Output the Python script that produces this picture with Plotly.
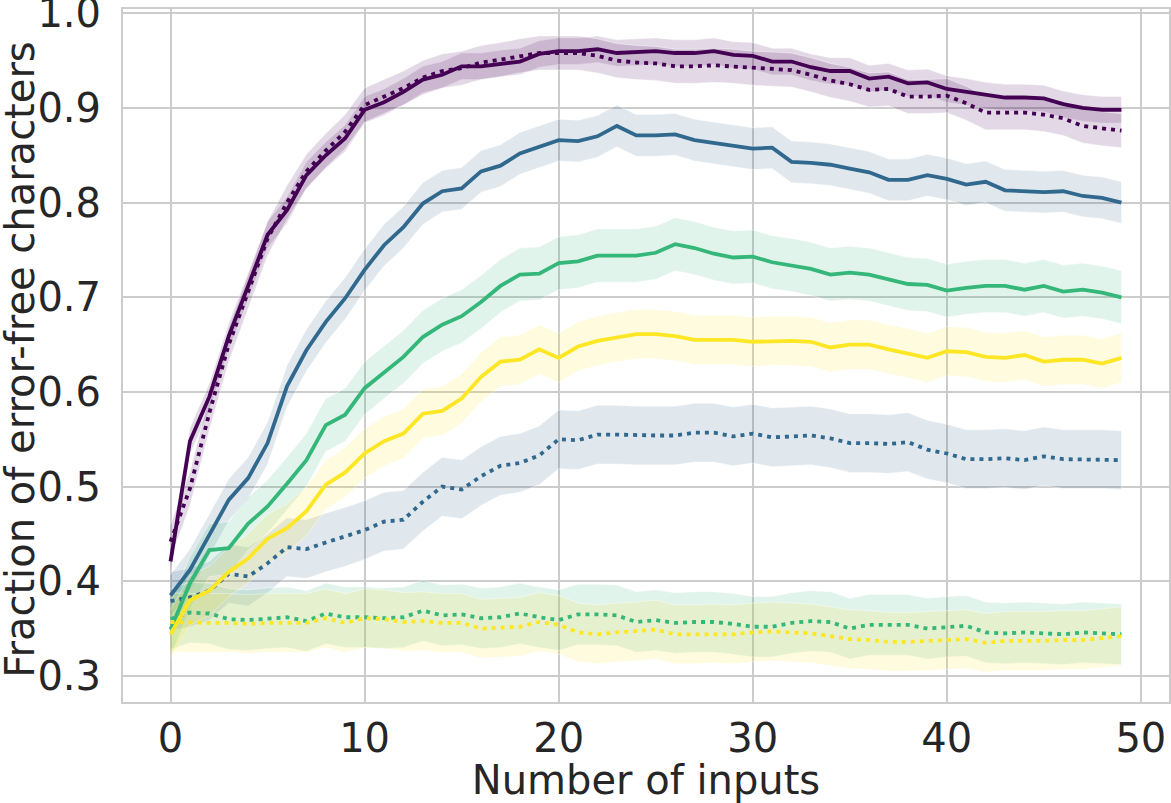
import plotly.graph_objects as go

x = list(range(50))

purple_solid = [0.421, 0.548, 0.595, 0.659, 0.712, 0.766, 0.792, 0.829, 0.850, 0.868,
                0.898, 0.906, 0.917, 0.930, 0.935, 0.944, 0.944, 0.947, 0.949, 0.957,
                0.960, 0.960, 0.962, 0.958, 0.959, 0.960, 0.958, 0.958, 0.960, 0.956,
                0.955, 0.949, 0.949, 0.943, 0.939, 0.939, 0.931, 0.933, 0.926, 0.927,
                0.920, 0.917, 0.913, 0.911, 0.911, 0.910, 0.904, 0.900, 0.898, 0.898]
purple_dotted = [0.442, 0.498, 0.578, 0.650, 0.706, 0.762, 0.800, 0.833, 0.855, 0.875,
                 0.903, 0.912, 0.921, 0.932, 0.939, 0.942, 0.948, 0.951, 0.955, 0.958,
                 0.958, 0.958, 0.955, 0.950, 0.948, 0.947, 0.944, 0.944, 0.945, 0.944,
                 0.942, 0.941, 0.940, 0.935, 0.929, 0.925, 0.919, 0.920, 0.912, 0.912,
                 0.913, 0.905, 0.895, 0.895, 0.895, 0.893, 0.889, 0.881, 0.878, 0.876]
blue_solid = [0.385, 0.412, 0.449, 0.486, 0.509, 0.546, 0.606, 0.644, 0.674, 0.699,
              0.729, 0.755, 0.774, 0.799, 0.812, 0.815, 0.833, 0.839, 0.852, 0.859,
              0.866, 0.865, 0.870, 0.881, 0.871, 0.871, 0.872, 0.866, 0.863, 0.860,
              0.857, 0.858, 0.843, 0.842, 0.840, 0.836, 0.832, 0.824, 0.824, 0.829,
              0.825, 0.819, 0.822, 0.813, 0.812, 0.811, 0.812, 0.807, 0.805, 0.800]
blue_dotted = [0.379, 0.383, 0.390, 0.408, 0.405, 0.419, 0.436, 0.434, 0.441, 0.447,
               0.454, 0.463, 0.465, 0.484, 0.500, 0.497, 0.511, 0.522, 0.525, 0.533,
               0.550, 0.549, 0.555, 0.555, 0.554, 0.554, 0.554, 0.557, 0.557, 0.553,
               0.556, 0.552, 0.553, 0.554, 0.551, 0.546, 0.546, 0.545, 0.547, 0.539,
               0.535, 0.529, 0.529, 0.530, 0.528, 0.532, 0.529, 0.529, 0.529, 0.528]
green_solid = [0.349, 0.398, 0.433, 0.435, 0.461, 0.479, 0.503, 0.528, 0.565, 0.576,
               0.604, 0.621, 0.637, 0.658, 0.671, 0.680, 0.695, 0.712, 0.724, 0.725,
               0.736, 0.738, 0.744, 0.744, 0.744, 0.747, 0.756, 0.752, 0.746, 0.742,
               0.743, 0.737, 0.734, 0.730, 0.724, 0.726, 0.724, 0.719, 0.714, 0.713,
               0.707, 0.710, 0.712, 0.712, 0.708, 0.712, 0.706, 0.708, 0.705, 0.700]
green_dotted = [0.360, 0.367, 0.366, 0.360, 0.359, 0.361, 0.362, 0.358, 0.366, 0.362,
                0.362, 0.361, 0.362, 0.369, 0.364, 0.365, 0.361, 0.362, 0.366, 0.362,
                0.359, 0.365, 0.365, 0.364, 0.357, 0.359, 0.356, 0.357, 0.357, 0.355,
                0.352, 0.352, 0.356, 0.358, 0.357, 0.350, 0.354, 0.354, 0.354, 0.350,
                0.352, 0.353, 0.346, 0.345, 0.346, 0.345, 0.344, 0.346, 0.345, 0.344]
yellow_solid = [0.344, 0.380, 0.390, 0.410, 0.424, 0.445, 0.456, 0.474, 0.502, 0.515,
                0.535, 0.548, 0.556, 0.577, 0.580, 0.593, 0.616, 0.632, 0.634, 0.645,
                0.636, 0.648, 0.654, 0.658, 0.661, 0.661, 0.659, 0.655, 0.655, 0.655,
                0.653, 0.654, 0.654, 0.653, 0.647, 0.650, 0.650, 0.645, 0.641, 0.636,
                0.643, 0.642, 0.637, 0.636, 0.639, 0.632, 0.634, 0.634, 0.630, 0.636]
yellow_dotted = [0.357, 0.356, 0.356, 0.356, 0.355, 0.356, 0.356, 0.356, 0.361, 0.356,
                 0.361, 0.360, 0.357, 0.358, 0.356, 0.356, 0.350, 0.351, 0.352, 0.357,
                 0.354, 0.346, 0.344, 0.346, 0.347, 0.349, 0.344, 0.344, 0.345, 0.344,
                 0.346, 0.347, 0.346, 0.345, 0.342, 0.339, 0.338, 0.336, 0.336, 0.337,
                 0.338, 0.339, 0.335, 0.337, 0.337, 0.337, 0.338, 0.338, 0.340, 0.342]

x_ticks = [0, 10, 20, 30, 40, 50]
y_ticks = [0.3, 0.4, 0.5, 0.6, 0.7, 0.8, 0.9, 1.0]
y_tick_text = ["0.3", "0.4", "0.5", "0.6", "0.7", "0.8", "0.9", "1.0"]

# confidence-band half widths
band_half = {
    "purple_solid": 0.014, "purple_dotted": 0.018,
    "blue_solid": 0.022, "blue_dotted": 0.031,
    "green_solid": 0.028, "green_dotted": 0.032,
    "yellow_solid": 0.026, "yellow_dotted": 0.031,
}

colors = {"purple": (68, 1, 84), "blue": (49, 104, 142),
          "green": (53, 183, 121), "yellow": (253, 231, 37)}

series = [
    ("purple_solid", purple_solid, "purple", "solid"),
    ("purple_dotted", purple_dotted, "purple", "dot"),
    ("blue_solid", blue_solid, "blue", "solid"),
    ("blue_dotted", blue_dotted, "blue", "dot"),
    ("green_solid", green_solid, "green", "solid"),
    ("green_dotted", green_dotted, "green", "dot"),
    ("yellow_solid", yellow_solid, "yellow", "solid"),
    ("yellow_dotted", yellow_dotted, "yellow", "dot"),
]

fig = go.Figure()
for name, ys, cname, style in series:
    r, g, b = colors[cname]
    h = band_half[name]
    upper = [v + h for v in ys]
    lower = [v - h for v in ys]
    fig.add_trace(go.Scatter(
        x=x + x[::-1], y=upper + lower[::-1], fill="toself",
        fillcolor=f"rgba({r},{g},{b},0.15)",
        line=dict(color="rgba(255,255,255,0.5)", width=0.8),
        hoverinfo="skip", showlegend=False, mode="lines"))
for name, ys, cname, style in series:
    r, g, b = colors[cname]
    fig.add_trace(go.Scatter(
        x=x, y=ys, mode="lines", name=name, showlegend=False,
        line=dict(color=f"rgb({r},{g},{b})", width=3.8,
                  dash="solid" if style == "solid" else "4px,5px")))

font_family = "DejaVu Sans"
fig.update_layout(
    width=1171, height=803,
    margin=dict(l=123, r=2, t=9, b=101),
    paper_bgcolor="white", plot_bgcolor="white",
    font=dict(family=font_family, color="#262626", size=40),
    showlegend=False,
    annotations=[dict(
        text="Fraction of error-free characters", textangle=-90,
        xref="paper", yref="paper", x=-0.0985, y=0.494,
        xanchor="center", yanchor="middle", showarrow=False,
        font=dict(size=40, family=font_family, color="#262626"))],
)
fig.update_xaxes(
    range=[-2.45, 51.45], tickvals=x_ticks, automargin=False,
    showgrid=True, gridcolor="#cccccc", gridwidth=2,
    showline=True, linecolor="#cccccc", linewidth=2, mirror=True,
    zeroline=False, ticks="", ticklabelstandoff=0, ticklabeloverflow="allow",
    tickfont=dict(size=40),
    title=dict(text="Number of inputs", font=dict(size=40), standoff=6),
)
fig.update_yaxes(
    range=[0.2725, 1.0045], tickvals=y_ticks, ticktext=y_tick_text,
    automargin=False,
    showgrid=True, gridcolor="#cccccc", gridwidth=2,
    showline=True, linecolor="#cccccc", linewidth=2, mirror=True,
    zeroline=False, ticks="", ticklabelstandoff=12, ticklabeloverflow="allow",
    tickfont=dict(size=40),
)

fig.write_html("out.html", config={"displayModeBar": False},
               post_script="document.body.style.margin='0';document.body.style.overflow='hidden';")
